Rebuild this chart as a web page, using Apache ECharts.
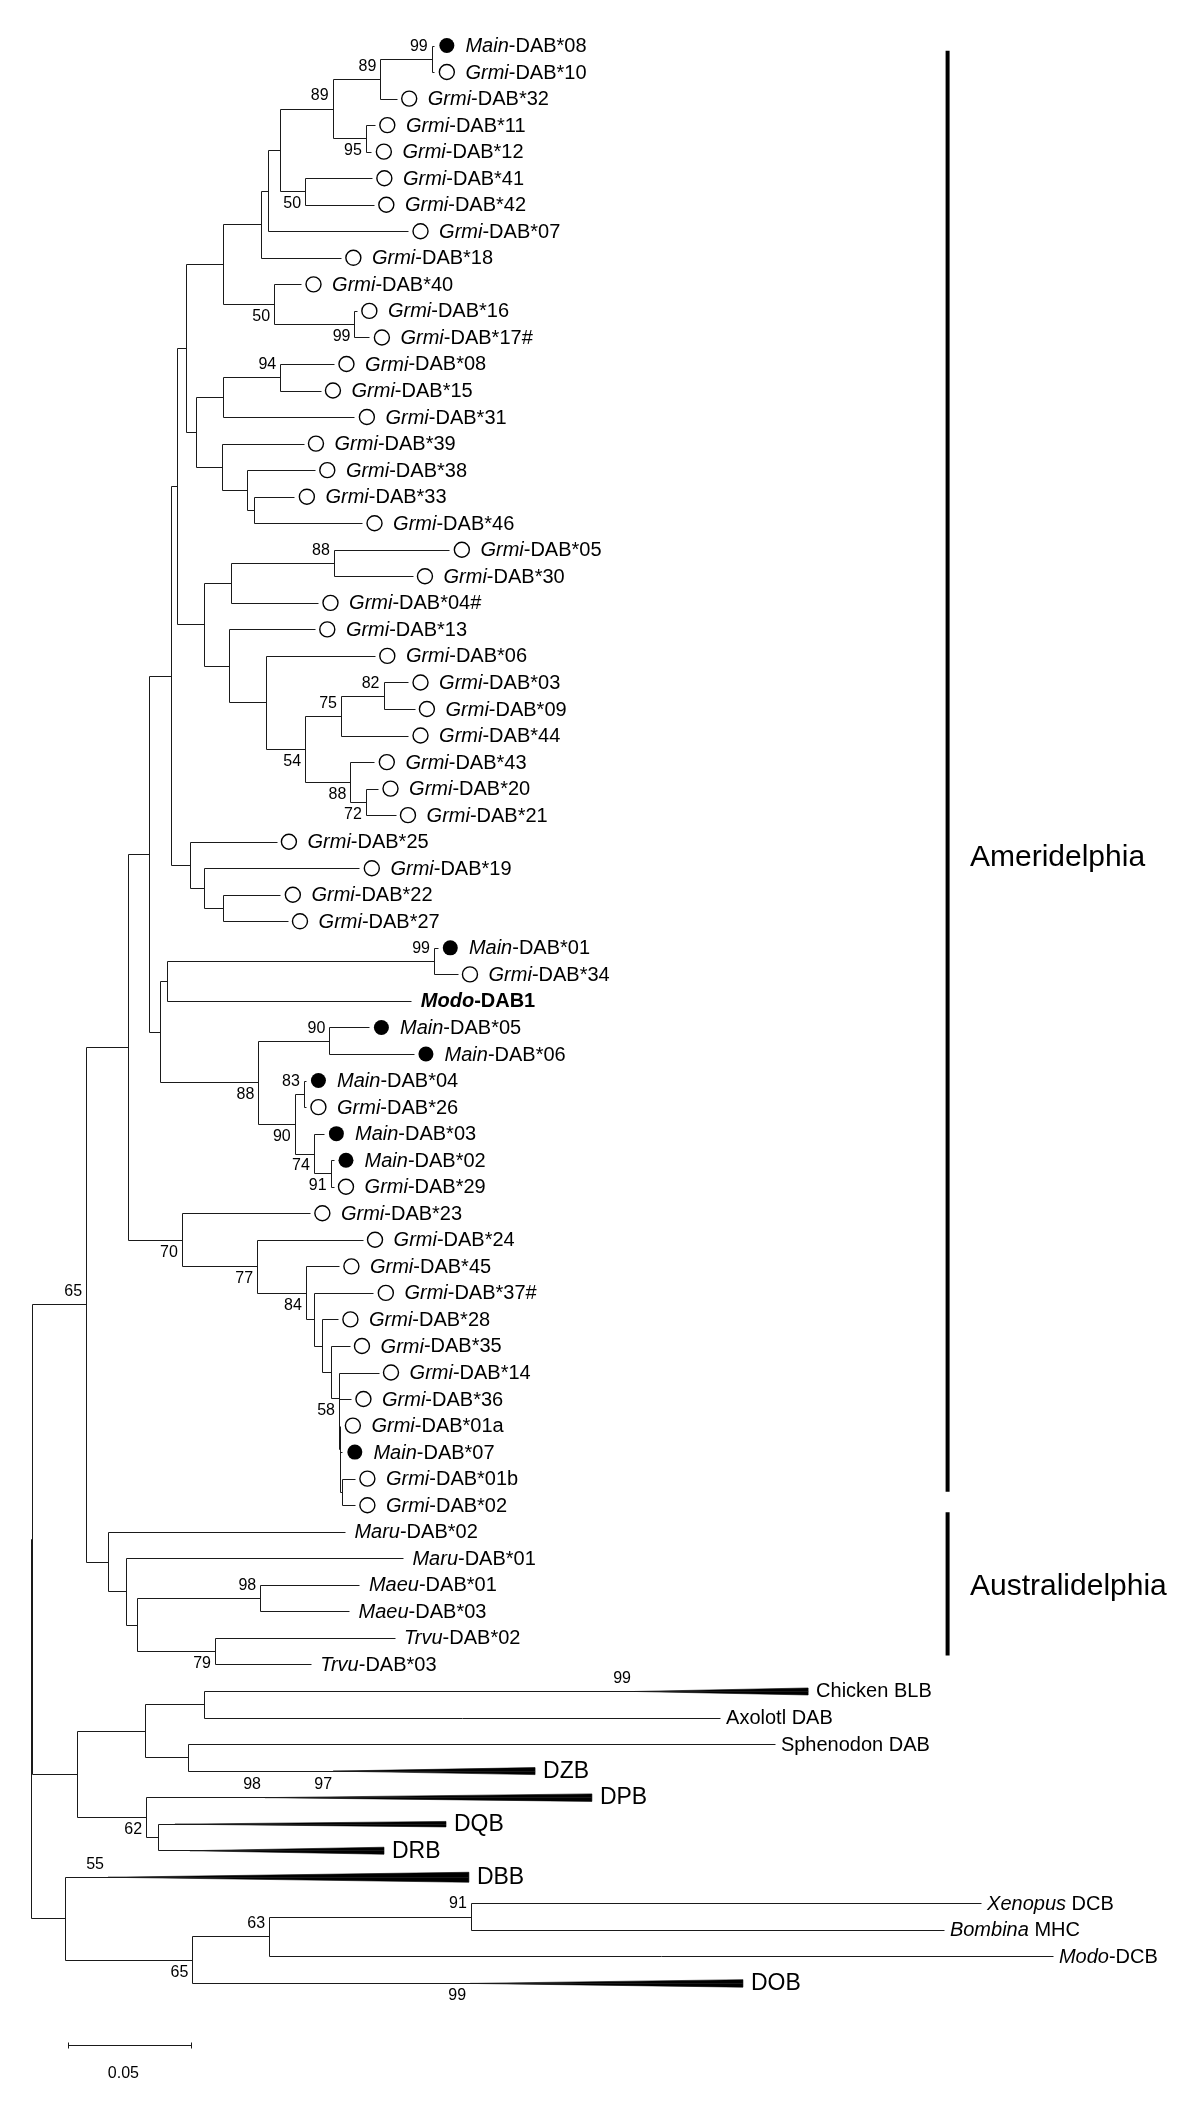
<!DOCTYPE html>
<html><head><meta charset="utf-8">
<script src="https://cdn.jsdelivr.net/npm/echarts@6/dist/echarts.min.js"></script>
<style>html,body{margin:0;padding:0;background:#fff}#c{width:1200px;height:2109px}</style>
</head><body><div id="c"></div>
<script>
// ---------------- DATA ----------------
const leafNames = ['Main-DAB*08','Grmi-DAB*10','Grmi-DAB*32','Grmi-DAB*11','Grmi-DAB*12','Grmi-DAB*41','Grmi-DAB*42','Grmi-DAB*07','Grmi-DAB*18','Grmi-DAB*40',
'Grmi-DAB*16','Grmi-DAB*17#','Grmi-DAB*08','Grmi-DAB*15','Grmi-DAB*31','Grmi-DAB*39','Grmi-DAB*38','Grmi-DAB*33','Grmi-DAB*46','Grmi-DAB*05',
'Grmi-DAB*30','Grmi-DAB*04#','Grmi-DAB*13','Grmi-DAB*06','Grmi-DAB*03','Grmi-DAB*09','Grmi-DAB*44','Grmi-DAB*43','Grmi-DAB*20','Grmi-DAB*21',
'Grmi-DAB*25','Grmi-DAB*19','Grmi-DAB*22','Grmi-DAB*27','Main-DAB*01','Grmi-DAB*34','Modo-DAB1','Main-DAB*05','Main-DAB*06','Main-DAB*04',
'Grmi-DAB*26','Main-DAB*03','Main-DAB*02','Grmi-DAB*29','Grmi-DAB*23','Grmi-DAB*24','Grmi-DAB*45','Grmi-DAB*37#','Grmi-DAB*28','Grmi-DAB*35',
'Grmi-DAB*14','Grmi-DAB*36','Grmi-DAB*01a','Main-DAB*07','Grmi-DAB*01b','Grmi-DAB*02','Maru-DAB*02','Maru-DAB*01','Maeu-DAB*01','Maeu-DAB*03',
'Trvu-DAB*02','Trvu-DAB*03','Chicken BLB','Axolotl DAB','Sphenodon DAB','DZB','DPB','DQB','DRB','DBB',
'Xenopus DCB','Bombina MHC','Modo-DCB','DOB'];

const leafParent = ['A','A','B','D','D','F','F','G','H','J',
'K','K','P','P','O','Q','R','S','S','X',
'X','V','W','Y','CC','CC','AA','BB','DD','DD',
'EE','HH','II','II','OO','OO','MM','PP','PP','RR',
'RR','SS','TT','TT','LL','UU','VV','WW','XX','YY',
'ZZ','ZZ2','ZZ3','ZZ4','ZZ5','ZZ5','AU','AU2','MAEU','MAEU',
'TRVU','TRVU','CA','CA','R8','R8','R4','R7','R7','R5',
'R10','R10','R9','R6'];

// distance from root to the tip of each leaf (substitutions/site)
const leafDepth = [0.1640,0.1640,0.1487,0.1398,0.1384,0.1386,0.1394,0.1533,0.1260,0.1098,
0.1325,0.1376,0.1232,0.1177,0.1315,0.1108,0.1154,0.1071,0.1346,0.1701,
0.1551,0.1167,0.1154,0.1398,0.1533,0.1559,0.1533,0.1396,0.1411,0.1482,
0.0998,0.1335,0.1014,0.1043,0.1654,0.1734,0.1546,0.1374,0.1555,0.1118,
0.1118,0.1191,0.1230,0.1230,0.1134,0.1348,0.1252,0.1392,0.1248,0.1295,
0.1413,0.1301,0.1258,0.1266,0.1317,0.1317,0.1276,0.1512,0.1335,0.1293,
0.1478,0.1137,0.3159,0.2801,0.3024,0.2049,0.2280,0.1687,0.1435,0.1780,
0.3862,0.3711,0.4154,0.2894];

// collapsed clades (drawn as triangles): depth of the clade root
const collapsedClades = ['Chicken BLB','DZB','DPB','DQB','DRB','DBB','DOB'];
const collapsedRootDepth = [0.2455,0.1228,0.0951,0.0585,0.0646,0.0313,0.1785];

// internal nodes
const nodeNames  = ['R0','R1','R5','R65','R2','KK','AU','FF','LL','U','JJ','N','EE','L','T','I','M','H','J','G','E','C','F','B','D','A','K','O','Q','P','R','S','V','W','X','Y','Z','AA','BB','CC','DD','HH','II','MM','NN','OO','PP','QQ','RR','SS','TT','UU','VV','WW','XX','YY','ZZ','ZZ2','ZZ3','ZZ4','ZZ5','AU2','AU3','MAEU','TRVU','R3','R4','CA','R8','R7','R6','R9','R10'];
const nodeParent = [null,'R0','R0','R1','R1','R65','R65','KK','KK','FF','FF','U','U','N','N','L','L','I','I','H','G','E','E','C','C','B','J','M','M','O','Q','R','T','T','V','W','Y','Z','Z','AA','BB','EE','HH','JJ','JJ','MM','NN','NN','QQ','QQ','SS','LL','UU','VV','WW','XX','YY','ZZ','ZZ2','ZZ3','ZZ4','AU','AU2','AU3','AU3','R2','R2','R3','R3','R4','R5','R6','R9'];
const nodeDepth  = [0,0.0005,0.0140,0.0224,0.0187,0.0395,0.0311,0.0479,0.0613,0.0571,0.0526,0.0593,0.0647,0.0630,0.0705,0.0781,0.0672,0.0936,0.0988,0.0963,0.1013,0.1226,0.1114,0.1420,0.1361,0.1629,0.1315,0.0781,0.0778,0.1013,0.0878,0.0907,0.0811,0.0806,0.1231,0.0957,0.1114,0.1260,0.1298,0.1433,0.1361,0.0705,0.0781,0.0551,0.0924,0.1638,0.1213,0.1072,0.1109,0.1150,0.1218,0.0919,0.1117,0.1150,0.1181,0.1218,0.1252,0.1254,0.1256,0.1258,0.1263,0.0386,0.0432,0.0932,0.0748,0.0462,0.0468,0.0702,0.0640,0.0515,0.0656,0.0968,0.1788];

// bootstrap support (node or collapsed clade), value, label above (1) / below (-1)
const bootNodes  = ['A','B','C','D','F','J','K','P','X','CC','AA','Z','BB','DD','OO','PP','NN','RR','QQ','SS','TT','LL','UU','VV','ZZ','R65','MAEU','TRVU','R4','R9','R10','R6','Chicken BLB','DPB','DBB','DOB'];
const bootValues = [99,89,89,95,50,50,99,94,88,82,75,54,88,72,99,90,88,83,90,74,91,70,77,84,58,65,98,79,62,63,91,65,99,98,55,99];
const bootSide   = [1,1,1,-1,-1,-1,-1,1,1,1,1,-1,-1,-1,1,1,-1,1,-1,-1,-1,-1,-1,-1,-1,1,1,-1,-1,1,1,-1,1,1,1,-1];
// support inside a collapsed clade
const innerBootClade = ['DPB'];
const innerBootDepth = [0.1240];
const innerBootValue = [97];

const groupNames = ['Ameridelphia','Australidelphia'];
const scaleBarLength = 0.05;

// ---------------- LAYOUT / STYLE ----------------
const FONT = '"Liberation Sans", Arial, Helvetica, sans-serif';
const PX_PER_UNIT = 2460;
const L = {
  groupBarDepth: 0.3726, groupLabelDepth: 0.3817,
  groupBarRows: [[0.196, 54.49],[55.27, 60.66]],
  groupLabelRows: [30.61, 58.07],
  scaleStartDepth: 0.0150, scaleRow: 75.34, scaleLabelRow: 76.40,
  wedgeH: {'Chicken BLB':7,'DZB':7,'DPB':7.5,'DQB':5.5,'DRB':7,'DBB':10,'DOB':7.5}
};
const LINE = '#1a1a1a';

// ---------------- TREE GEOMETRY ----------------
const depthOf = {}; nodeNames.forEach((n,i)=>depthOf[n]=nodeDepth[i]);
const children = {}; nodeNames.forEach(n=>children[n]=[]);
nodeNames.forEach((n,i)=>{ if(nodeParent[i]) children[nodeParent[i]].push({t:'n',name:n}); });
leafNames.forEach((n,i)=>children[leafParent[i]].push({t:'l',idx:i}));
const nodeY = {};
function yOf(c){ return c.t==='l' ? c.idx : calcY(c.name); }
function calcY(n){
  if(nodeY[n]!==undefined) return nodeY[n];
  const ys = children[n].map(yOf);
  nodeY[n] = (Math.min(...ys)+Math.max(...ys))/2;
  return nodeY[n];
}
nodeNames.forEach(calcY);

const segs = [];
nodeNames.forEach((n,i)=>{
  const ys = children[n].map(yOf);
  segs.push([nodeDepth[i], Math.min(...ys), nodeDepth[i], Math.max(...ys)]);
  if(nodeParent[i]) segs.push([depthOf[nodeParent[i]], nodeY[n], nodeDepth[i], nodeY[n]]);
});
leafNames.forEach((n,i)=>{
  const ci = collapsedClades.indexOf(n);
  const end = ci>=0 ? collapsedRootDepth[ci] : leafDepth[i];
  segs.push([depthOf[leafParent[i]], i, end, i]);
});

const wedges = collapsedClades.map((n,k)=>[collapsedRootDepth[k], leafDepth[leafNames.indexOf(n)], leafNames.indexOf(n)]);

const openPts = [], filledPts = [];
leafNames.forEach((n,i)=>{
  if(n.startsWith('Grmi')) openPts.push([leafDepth[i], i]);
  else if(n.startsWith('Main')) filledPts.push([leafDepth[i], i]);
});

const bootData = bootNodes.map((n,k)=>{
  if(depthOf[n]!==undefined) return [depthOf[n], nodeY[n], bootValues[k], bootSide[k]];
  const li = leafNames.indexOf(n);
  return [collapsedRootDepth[collapsedClades.indexOf(n)], li, bootValues[k], bootSide[k]];
});
innerBootClade.forEach((n,k)=>bootData.push([innerBootDepth[k], leafNames.indexOf(n), innerBootValue[k], 1]));

function labelRich(n){
  if(['Chicken BLB','Axolotl DAB','Sphenodon DAB'].includes(n)) return '{n|'+n+'}';
  if(['DZB','DPB','DQB','DRB','DBB','DOB'].includes(n)) return '{big|'+n+'}';
  if(n==='Xenopus DCB'||n==='Bombina MHC'){ const p=n.split(' '); return '{i|'+p[0]+'}{n| '+p[1]+'}'; }
  if(n==='Modo-DAB1') return '{bi|Modo}{b|-DAB1}';
  const k = n.indexOf('-');
  return '{i|'+n.slice(0,k)+'}{n|'+n.slice(k)+'}';
}
const rich = {
  n:{fontSize:20,fontFamily:FONT,fill:'#000'},
  i:{fontSize:20,fontFamily:FONT,fontStyle:'italic',fill:'#000'},
  b:{fontSize:20,fontFamily:FONT,fontWeight:'bold',fill:'#000'},
  bi:{fontSize:20,fontFamily:FONT,fontWeight:'bold',fontStyle:'italic',fill:'#000'},
  big:{fontSize:23,fontFamily:FONT,fill:'#000'}
};
function textOffset(n){
  if(n.startsWith('Grmi')||n.startsWith('Main')) return 31;
  if(collapsedClades.includes(n)) return 8;
  if(['Axolotl DAB','Sphenodon DAB','Xenopus DCB','Bombina MHC','Modo-DCB'].includes(n)) return 6;
  return 9.5;
}

const px = v => Math.round(v)+0.5;

const chart = echarts.init(document.getElementById('c'), null, {renderer:'canvas'});
chart.setOption({
  animation:false,
  backgroundColor:'#fff',
  grid:{left:31, top:18.96, width:1169, height:2070.12},
  xAxis:{type:'value', min:0, max:1169/PX_PER_UNIT, show:false},
  yAxis:{type:'value', inverse:true, min:-1, max:77, show:false},
  series:[
    { type:'custom', name:'branches', silent:true, data:segs, z:2,
      renderItem:(p,api)=>{
        const a=api.coord([api.value(0),api.value(1)]), b=api.coord([api.value(2),api.value(3)]);
        return {type:'line', shape:{x1:px(a[0]),y1:px(a[1]),x2:px(b[0]),y2:px(b[1])}, style:{stroke:LINE,lineWidth:1}};
      }},
    { type:'custom', name:'collapsed', silent:true, data:wedges, z:2,
      renderItem:(p,api)=>{
        const a=api.coord([api.value(0),api.value(2)]), b=api.coord([api.value(1),api.value(2)]);
        const h=L.wedgeH[collapsedClades[p.dataIndex]];
        return {type:'group',children:[
          {type:'polygon', shape:{points:[[a[0],a[1]+0.5],[b[0],b[1]-h/2+0.5],[b[0],b[1]+h/2+0.5]]}, style:{fill:'#000',stroke:'#000',lineWidth:0.6}},
          {type:'line', shape:{x1:a[0],y1:px(a[1]),x2:b[0],y2:px(a[1])}, style:{stroke:LINE,lineWidth:1}}
        ]};
      }},
    { type:'scatter', name:'Grmi', silent:true, data:openPts, symbol:'circle', symbolSize:15, symbolOffset:[12.4,0], z:3,
      itemStyle:{color:'#fff', borderColor:'#000', borderWidth:1.4, opacity:1}},
    { type:'scatter', name:'Main', silent:true, data:filledPts, symbol:'circle', symbolSize:15, symbolOffset:[12.4,0], z:3,
      itemStyle:{color:'#000', opacity:1}},
    { type:'custom', name:'leafLabels', silent:true, data:leafDepth.map((d,i)=>[d,i]), z:4,
      renderItem:(p,api)=>{
        const n=leafNames[p.dataIndex];
        const c=api.coord([api.value(0),api.value(1)]);
        return {type:'text', x:c[0]+textOffset(n), y:c[1]+1,
          style:{text:labelRich(n), rich:rich, fontSize:20, fontFamily:FONT, fill:'#000',
                 align:'left', verticalAlign:'middle', textAlign:'left', textVerticalAlign:'middle'}};
      }},
    { type:'custom', name:'bootstrap', silent:true, data:bootData, z:4,
      renderItem:(p,api)=>{
        const c=api.coord([api.value(0),api.value(1)]);
        return {type:'text', x:c[0]-4, y:c[1]-api.value(3)*12.5,
          style:{text:String(api.value(2)), fontSize:16, fontFamily:FONT, fill:'#000',
                 align:'right', verticalAlign:'middle', textAlign:'right', textVerticalAlign:'middle'}};
      }},
    { type:'custom', name:'groups', silent:true, z:4,
      data:L.groupBarRows.map((r,k)=>[r[0],r[1],L.groupLabelRows[k]]),
      renderItem:(p,api)=>{
        const t=api.coord([L.groupBarDepth,api.value(0)]), b=api.coord([L.groupBarDepth,api.value(1)]);
        const l=api.coord([L.groupLabelDepth,api.value(2)]);
        return {type:'group',children:[
          {type:'rect', shape:{x:t[0]-2,y:t[1],width:4,height:b[1]-t[1]}, style:{fill:'#000'}},
          {type:'text', x:l[0], y:l[1], style:{text:groupNames[p.dataIndex], fontSize:30, fontFamily:FONT, fill:'#000',
             align:'left', verticalAlign:'middle', textAlign:'left', textVerticalAlign:'middle'}}
        ]};
      }},
    { type:'custom', name:'scale', silent:true, z:4,
      data:[[L.scaleStartDepth, L.scaleStartDepth+scaleBarLength, L.scaleRow, L.scaleLabelRow]],
      renderItem:(p,api)=>{
        const a=api.coord([api.value(0),api.value(2)]), b=api.coord([api.value(1),api.value(2)]);
        const t=api.coord([(api.value(0)+api.value(1))/2,api.value(3)]);
        return {type:'group',children:[
          {type:'line', shape:{x1:px(a[0]),y1:px(a[1]),x2:px(b[0]),y2:px(b[1])}, style:{stroke:LINE,lineWidth:1}},
          {type:'line', shape:{x1:px(a[0]),y1:px(a[1])-3,x2:px(a[0]),y2:px(a[1])+3}, style:{stroke:LINE,lineWidth:1}},
          {type:'line', shape:{x1:px(b[0]),y1:px(b[1])-3,x2:px(b[0]),y2:px(b[1])+3}, style:{stroke:LINE,lineWidth:1}},
          {type:'text', x:t[0]-6, y:t[1], style:{text:String(scaleBarLength), fontSize:16, fontFamily:FONT, fill:'#000',
             align:'center', verticalAlign:'middle', textAlign:'center', textVerticalAlign:'middle'}}
        ]};
      }}
  ]
});
</script>
</body></html>
